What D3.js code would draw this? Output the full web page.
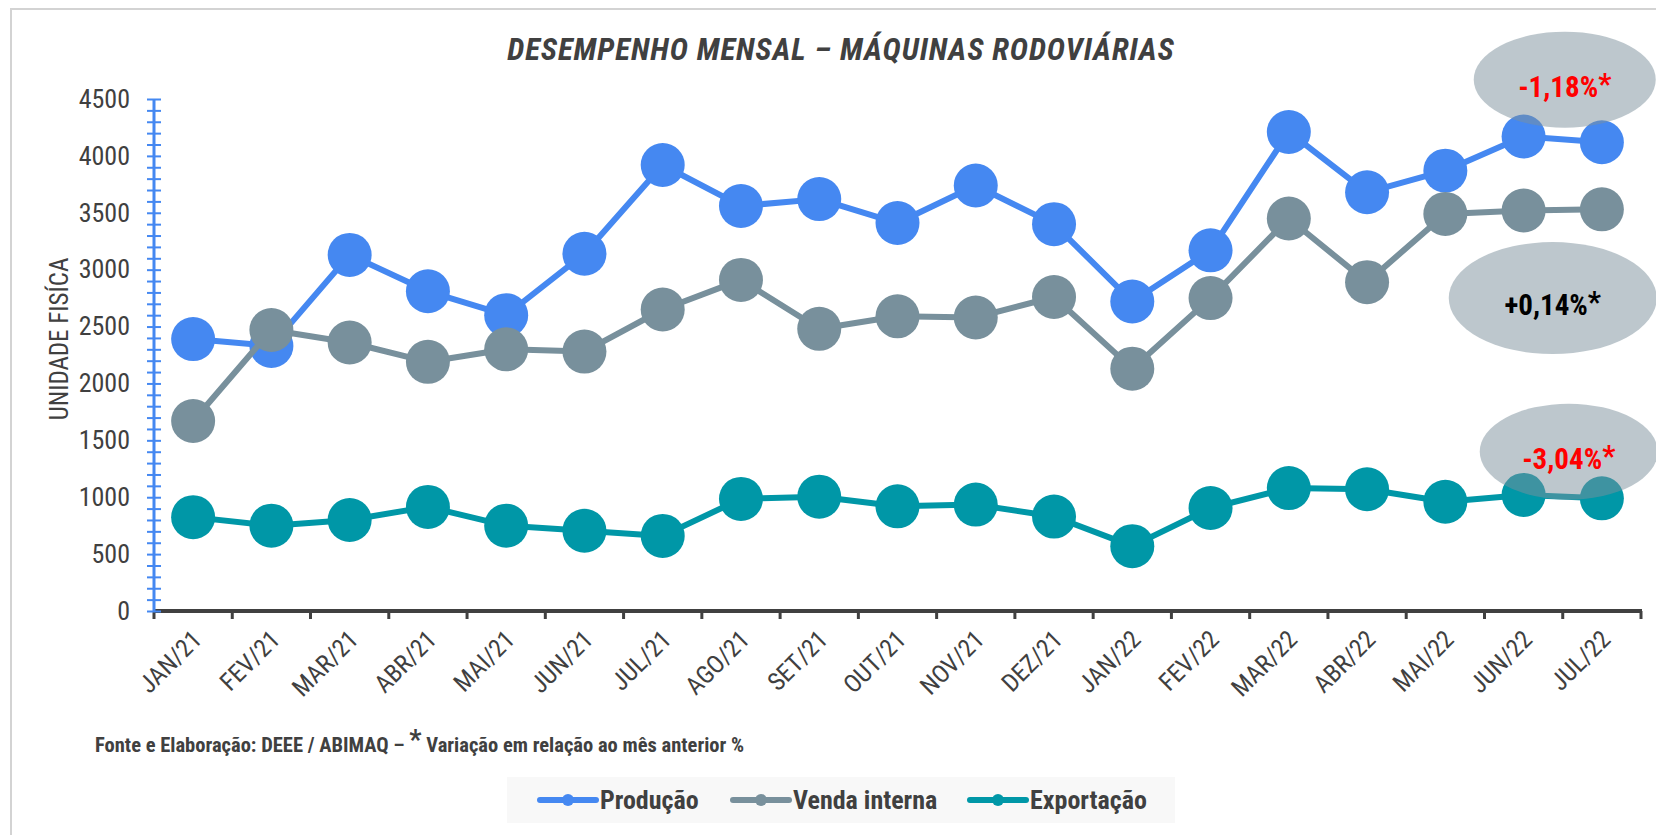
<!DOCTYPE html>
<html>
<head>
<meta charset="utf-8">
<script src="https://cdn.jsdelivr.net/npm/d3@7"></script>
<style>
  html, body { margin: 0; padding: 0; background: #fff; }
  svg { display: block; }
</style>
</head>
<body>
<svg id="chart" width="1656" height="835"></svg>
<script>
// Data
const months = ["JAN/21", "FEV/21", "MAR/21", "ABR/21", "MAI/21", "JUN/21", "JUL/21", "AGO/21", "SET/21",
  "OUT/21", "NOV/21", "DEZ/21", "JAN/22", "FEV/22", "MAR/22", "ABR/22", "MAI/22", "JUN/22", "JUL/22"];
const producao = [2390, 2330, 3130, 2810, 2600, 3140, 3920, 3560, 3620, 3410, 3740, 3400, 2720, 3170, 4210, 3680, 3870, 4170, 4120];
const vendaInterna = [1670, 2470, 2360, 2190, 2300, 2280, 2650, 2910, 2480, 2590, 2580, 2760, 2130, 2750, 3450, 2890, 3490, 3520, 3530];
const exportacao = [825, 750, 800, 915, 750, 705, 660, 985, 1005, 920, 935, 830, 570, 905, 1080, 1070, 960, 1020, 990];
const seriesNames = ["Produção", "Venda interna", "Exportação"];
const seriesColors = ["#4588F1", "#78909C", "#0097A7"];
const yTicks = d3.range(0, 4501, 500);
const yMinorTicks = d3.range(0, 4501, 100);

// Variation bubbles (month-on-month %), anchored in data units
const varLabels = ["-1,18%", "+0,14%", "-3,04%"];
const varColors = ["#FF0000", "#000000", "#FF0000"];
const varCenters = [4670, 2750, 1400];

const FONT = "'Liberation Sans Narrow', 'Arial Narrow', 'Roboto Condensed', sans-serif";
const TEXT = "#404040";

const svg = d3.select("#chart");

const margin = { left: 154, right: 15, top: 99, bottom: 224 };
const width = 1656, height = 835;

// Outer frame
svg.append("rect")
  .attr("x", 11).attr("y", 9)
  .attr("width", 1700).attr("height", 900)
  .attr("fill", "none")
  .attr("stroke", "#d3d3d3")
  .attr("stroke-width", 2);

const x = d3.scaleBand()
  .domain(months)
  .range([margin.left, width - margin.right])
  .padding(0);
const xc = (m) => x(m) + x.bandwidth() / 2;

const y = d3.scaleLinear()
  .domain([0, 4500])
  .range([height - margin.bottom, margin.top]);

// Title
svg.append("text")
  .attr("x", 841).attr("y", 60)
  .attr("text-anchor", "middle")
  .attr("font-family", FONT)
  .attr("font-size", 31)
  .attr("letter-spacing", 0.9)
  .attr("font-weight", "bold")
  .attr("font-style", "italic")
  .attr("fill", TEXT)
  .text("DESEMPENHO MENSAL – MÁQUINAS RODOVIÁRIAS");

// X axis: baseline, boundary ticks, rotated labels
const xAxis = svg.append("g").attr("class", "x-axis");
xAxis.selectAll("line.tick")
  .data(months.map((m) => x(m)).concat([x.range()[1]]))
  .enter()
  .append("line")
  .attr("class", "tick")
  .attr("x1", (d) => d).attr("x2", (d) => d)
  .attr("y1", y(0)).attr("y2", y(0) + 8)
  .attr("stroke", TEXT)
  .attr("stroke-width", 3);
xAxis.append("line")
  .attr("x1", x.range()[0]).attr("x2", x.range()[1] + 1)
  .attr("y1", y(0)).attr("y2", y(0))
  .attr("stroke", TEXT)
  .attr("stroke-width", 4);
xAxis.selectAll("text")
  .data(months)
  .enter()
  .append("text")
  .attr("transform", (d) => `translate(${xc(d) + 10},${y(0) + 30}) rotate(-45)`)
  .attr("text-anchor", "end")
  .attr("font-family", FONT)
  .attr("font-size", 25)
  .attr("fill", TEXT)
  .text((d) => d);

// Y axis with crossing minor ticks
const yAxis = svg.append("g")
  .attr("class", "y-axis")
  .attr("transform", `translate(${margin.left},0)`)
  .call(
    d3.axisLeft(y)
      .tickValues(yMinorTicks)
      .tickSize(7)
      .tickPadding(17)
      .tickFormat((d) => (yTicks.includes(d) ? d : ""))
  );
yAxis.select(".domain")
  .attr("stroke", "#4588F1")
  .attr("stroke-width", 3)
  .attr("d", `M0,${y(0)}V${y(4500)}`);
yAxis.selectAll(".tick line")
  .attr("x1", 7).attr("x2", -7)
  .attr("stroke", "#4588F1")
  .attr("stroke-width", 2);
yAxis.selectAll(".tick text")
  .attr("font-family", FONT)
  .attr("font-size", 26)
  .attr("fill", TEXT);

svg.append("text")
  .attr("transform", "translate(68,339) rotate(-90)")
  .attr("text-anchor", "middle")
  .attr("font-family", FONT)
  .attr("font-size", 25)
  .attr("fill", TEXT)
  .text("UNIDADE FISÍCA");

// Series: line + markers, in draw order
const allSeries = [producao, vendaInterna, exportacao];
const line = d3.line()
  .x((d, i) => xc(months[i]))
  .y((d) => y(d));

allSeries.forEach((values, s) => {
  const g = svg.append("g").attr("class", "series");
  g.append("path")
    .datum(values)
    .attr("d", line)
    .attr("fill", "none")
    .attr("stroke", seriesColors[s])
    .attr("stroke-width", 6)
    .attr("stroke-linejoin", "round");
  g.selectAll("circle")
    .data(values)
    .enter()
    .append("circle")
    .attr("cx", (d, i) => xc(months[i]))
    .attr("cy", (d) => y(d))
    .attr("r", 22)
    .attr("fill", seriesColors[s]);
});

// Variation bubbles (drawn on top, translucent)
const lastTwo = (xc(months[17]) + xc(months[18])) / 2;
const bubbleShape = [
  { dx: 2, rx: 91, ry: 48 },
  { dx: -10, rx: 104, ry: 56 },
  { dx: 6, rx: 89, ry: 48 },
];
const bubbles = svg.append("g").attr("class", "bubbles");
varLabels.forEach((lbl, i) => {
  const cx = lastTwo + bubbleShape[i].dx;
  const cy = y(varCenters[i]);
  bubbles.append("ellipse")
    .attr("cx", cx).attr("cy", cy)
    .attr("rx", bubbleShape[i].rx).attr("ry", bubbleShape[i].ry)
    .attr("fill", "#7B8F9B")
    .attr("fill-opacity", 0.5);
  const t = bubbles.append("text")
    .attr("x", cx).attr("y", cy + 17)
    .attr("text-anchor", "middle")
    .attr("font-family", FONT)
    .attr("font-size", 29)
    .attr("font-weight", "bold")
    .attr("fill", varColors[i]);
  t.append("tspan").text(lbl);
  t.append("tspan").attr("dy", -3).text("*");
});

// Footnote
const note = svg.append("text")
  .attr("x", 95).attr("y", 752)
  .attr("font-family", FONT)
  .attr("font-size", 20.5)
  .attr("font-weight", "bold")
  .attr("fill", TEXT);
note.append("tspan").text("Fonte e Elaboração: DEEE / ABIMAQ – ");
note.append("tspan").attr("font-size", 27).attr("dy", -3).text("*");
note.append("tspan").attr("dy", 3).text(" Variação em relação ao mês anterior %");

// Legend
const legend = svg.append("g").attr("class", "legend");
legend.append("rect")
  .attr("x", 507).attr("y", 777)
  .attr("width", 668).attr("height", 46)
  .attr("fill", "#f8f8f8");
const legendX = [540, 733, 970];
seriesNames.forEach((name, i) => {
  const lg = legend.append("g").attr("transform", `translate(${legendX[i]},800)`);
  lg.append("line")
    .attr("x1", 0).attr("x2", 56)
    .attr("stroke", seriesColors[i])
    .attr("stroke-width", 6)
    .attr("stroke-linecap", "round");
  lg.append("circle")
    .attr("cx", 28).attr("r", 6)
    .attr("fill", seriesColors[i]);
  lg.append("text")
    .attr("x", 60).attr("y", 9)
    .attr("font-family", FONT)
    .attr("font-size", 26)
    .attr("font-weight", "bold")
    .attr("fill", TEXT)
    .text(name);
});
</script>
</body>
</html>
